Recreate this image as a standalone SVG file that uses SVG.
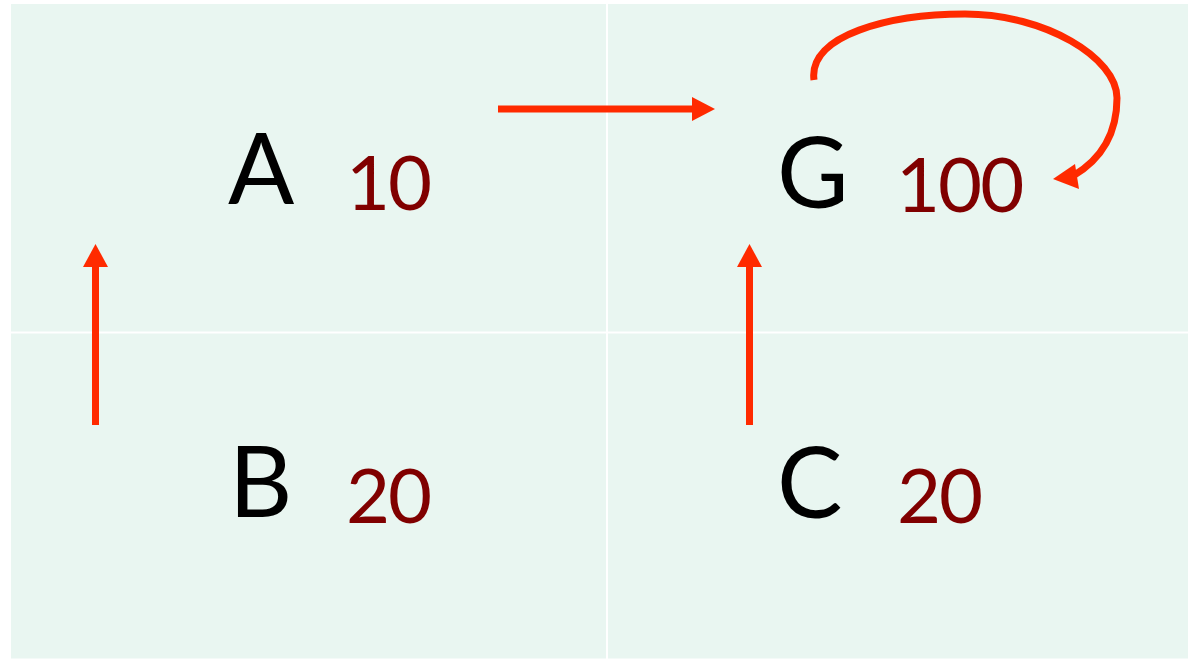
<svg xmlns="http://www.w3.org/2000/svg" width="1188" height="660" viewBox="0 0 1188 660">
  <style>
    .cell { fill: #E9F6F1; }
    .name { font-family: Lato, "Open Sans", "Liberation Sans", sans-serif; font-size: 98px; fill: #000000; }
    .val { font-family: Lato, "Open Sans", "Liberation Sans", sans-serif; font-size: 76px; letter-spacing: -2px; fill: #800000; }
    .edge { stroke: #FF2A00; stroke-width: 7; fill: none; }
    .head { fill: #FF2A00; }
  </style>
  <rect x="0" y="0" width="1188" height="660" fill="#FFFFFF"/>
  <!-- four cells separated by thin white gaps -->
  <g id="grid">
    <rect class="cell" x="11" y="4" width="595" height="327.5"/>
    <rect class="cell" x="608" y="4" width="580" height="327.5"/>
    <rect class="cell" x="11" y="333.5" width="595" height="325"/>
    <rect class="cell" x="608" y="333.5" width="580" height="325"/>
  </g>
  <g id="node-A">
    <text class="name" x="228" y="204">A</text>
    <text class="val" x="346" y="210">10</text>
  </g>
  <g id="node-G">
    <text class="name" x="777" y="208">G</text>
    <text class="val" x="896" y="212">100</text>
  </g>
  <g id="node-B">
    <text class="name" x="229" y="517">B</text>
    <text class="val" x="346" y="523">20</text>
  </g>
  <g id="node-C">
    <text class="name" x="777" y="518">C</text>
    <text class="val" x="897" y="523">20</text>
  </g>
  <g id="connectors">
    <!-- B to A -->
    <line class="edge" x1="95.5" y1="425" x2="95.5" y2="266"/>
    <polygon class="head" points="95.5,244 83,267 108,267"/>
    <!-- A to G -->
    <line class="edge" x1="498" y1="109" x2="693" y2="109"/>
    <polygon class="head" points="715,109 692,97 692,121"/>
    <!-- C to G -->
    <line class="edge" x1="749.5" y1="425" x2="749.5" y2="266"/>
    <polygon class="head" points="749.5,244 737,267 762,267"/>
    <!-- G to itself -->
    <path class="edge" stroke-width="6" d="M814,80 C808,35 890,14 965,14 C1045,14 1117,58 1117,98 C1117,135 1100,160 1073,176"/>
    <polygon class="head" points="1053,179 1075,164 1079,189"/>
  </g>
</svg>
